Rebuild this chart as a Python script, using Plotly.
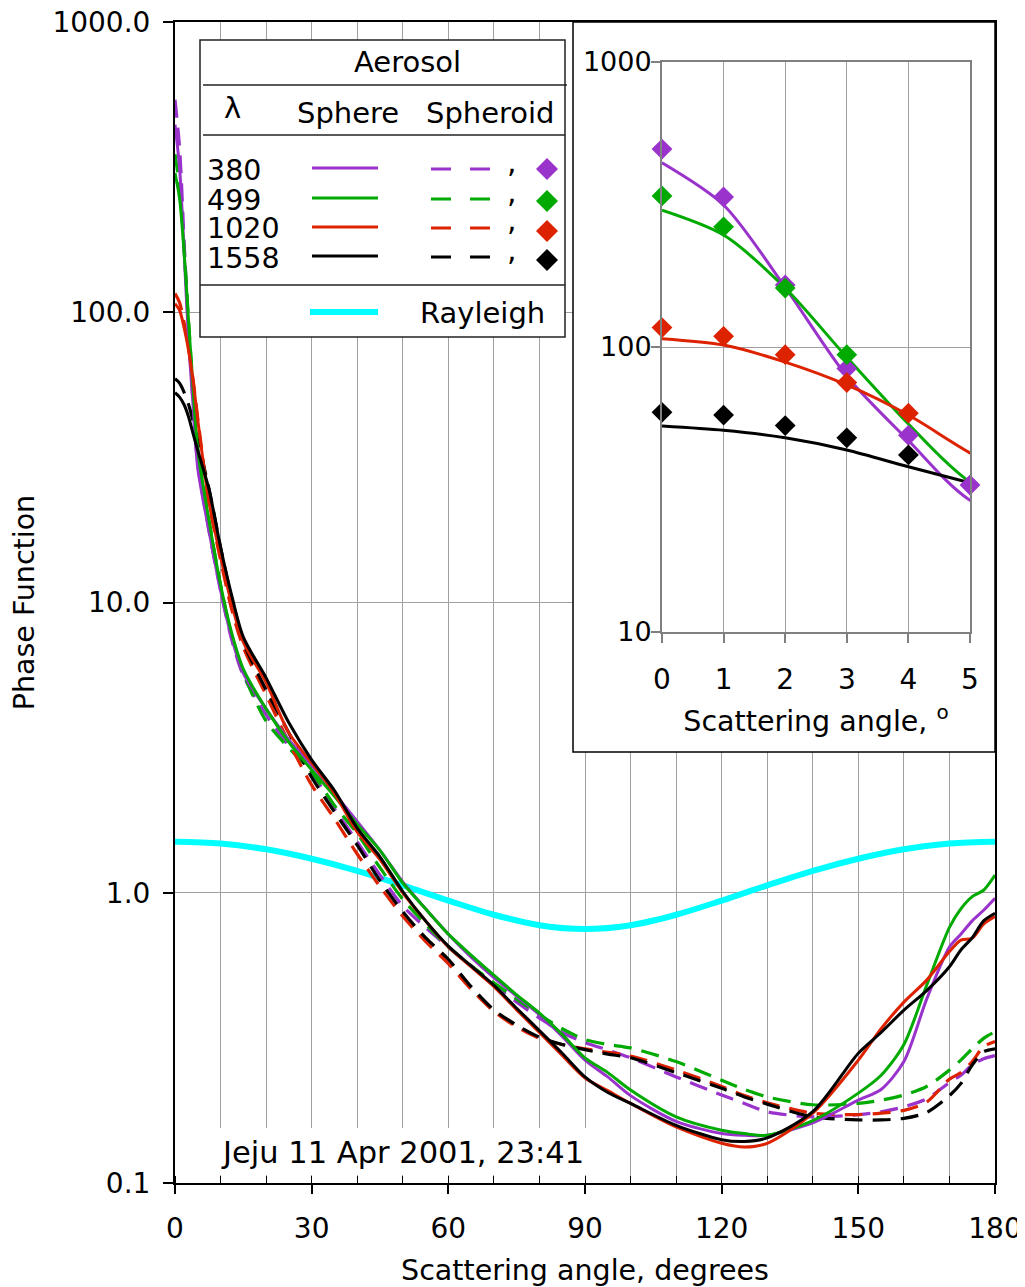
import plotly.graph_objects as go

# ---------------- data ----------------
angles = [0, 1, 2, 3, 4, 5, 7.5, 10, 12.5, 15, 20, 25, 30, 35, 40, 45, 50, 55, 60, 65,
          70, 75, 80, 85, 90, 95, 100, 110, 120, 125, 130, 140, 150, 155, 160, 165,
          170, 172.5, 175, 177.5, 180]

sphere_380 = [443, 315, 162, 79, 47, 29, 17.5, 11, 7.5, 5.7, 4.3, 3.36, 2.75, 2.2, 1.76, 1.4,
              1.09, 0.88, 0.72, 0.6, 0.51, 0.44, 0.38, 0.32, 0.265, 0.232, 0.2, 0.163, 0.148,
              0.146, 0.146, 0.161, 0.193, 0.21, 0.262, 0.43, 0.65, 0.72, 0.8, 0.87, 0.957]
sphere_499 = [302, 247, 161, 92, 53.7, 33.6, 19, 11.5, 7.8, 5.9, 4.3, 3.3, 2.65, 2.15, 1.72, 1.4,
              1.08, 0.88, 0.72, 0.61, 0.52, 0.445, 0.385, 0.325, 0.27, 0.24, 0.209, 0.169, 0.152,
              0.148, 0.146, 0.164, 0.204, 0.235, 0.3, 0.48, 0.76, 0.88, 0.97, 1.02, 1.15]
sphere_1020 = [107, 101.6, 88.5, 73.6, 57.7, 42.5, 22, 14.4, 9.8, 7.3, 5.3, 3.55, 2.8, 2.2, 1.62, 1.3,
               1.0, 0.8, 0.65, 0.555, 0.475, 0.395, 0.33, 0.275, 0.23, 0.208, 0.188, 0.156, 0.137,
               0.133, 0.137, 0.174, 0.265, 0.34, 0.42, 0.5, 0.627, 0.687, 0.697, 0.78, 0.828]
sphere_1558 = [52.8, 51, 48, 43.5, 38, 33.4, 24.4, 15.5, 10.5, 7.6, 5.5, 3.85, 2.87, 2.25, 1.67, 1.33,
               1.01, 0.8, 0.655, 0.56, 0.48, 0.4, 0.335, 0.28, 0.232, 0.205, 0.188, 0.158, 0.141,
               0.139, 0.143, 0.176, 0.28, 0.33, 0.394, 0.46, 0.556, 0.635, 0.7, 0.8, 0.85]

spheroid_380 = [540, 370, 175, 85, 48, 30, 17.5, 11, 7.4, 5.6, 4.1, 3.2, 2.6, 1.95, 1.5, 1.15,
                0.9, 0.76, 0.65, 0.56, 0.48, 0.42, 0.37, 0.33, 0.305, 0.287, 0.27, 0.232, 0.201,
                0.188, 0.176, 0.169, 0.172, 0.176, 0.183, 0.195, 0.222, 0.235, 0.255, 0.268, 0.275]
spheroid_499 = [350, 270, 165, 92, 54, 34, 19, 11.5, 7.6, 5.7, 3.9, 3.15, 2.6, 2.0, 1.6, 1.22,
                0.95, 0.78, 0.65, 0.56, 0.49, 0.43, 0.38, 0.34, 0.312, 0.3, 0.292, 0.262, 0.226,
                0.21, 0.198, 0.186, 0.188, 0.193, 0.201, 0.215, 0.245, 0.265, 0.29, 0.315, 0.332]
spheroid_1020 = [116, 108, 92, 75, 58, 43, 22, 14, 9.4, 7.0, 4.8, 3.3, 2.35, 1.8, 1.36, 1.05,
                 0.83, 0.68, 0.57, 0.465, 0.39, 0.345, 0.315, 0.3, 0.29, 0.282, 0.274, 0.245, 0.215,
                 0.2, 0.189, 0.174, 0.172, 0.174, 0.178, 0.19, 0.228, 0.24, 0.262, 0.295, 0.307]
spheroid_1558 = [59, 57, 53, 48, 42, 36, 24.5, 15.5, 10.2, 7.3, 5.0, 3.55, 2.5, 1.9, 1.46, 1.1,
                 0.86, 0.7, 0.59, 0.475, 0.395, 0.35, 0.318, 0.3, 0.288, 0.278, 0.27, 0.24, 0.212,
                 0.198, 0.187, 0.169, 0.165, 0.165, 0.167, 0.175, 0.2, 0.22, 0.255, 0.283, 0.29]

rayleigh_angles = [0, 10, 20, 30, 40, 50, 60, 70, 80, 90, 100, 110, 120, 130, 140, 150, 160, 170, 180]
rayleigh = [1.5, 1.478, 1.412, 1.31, 1.19, 1.06, 0.94, 0.84, 0.773, 0.75, 0.773, 0.84, 0.94,
            1.06, 1.19, 1.31, 1.412, 1.478, 1.5]

meas_angles = [0, 1, 2, 3, 4, 5]
meas_380 = [495, 336, 165, 84, 49, 32.8]
meas_499 = [339, 264, 161, 94, None, None]
meas_1020 = [117, 109, 94, 75, 58.6, None]
meas_1558 = [59, 57.7, 53, 48, 41.8, None]

wavelengths = ["380", "499", "1020", "1558"]
colors = ["#9933CC", "#00AA00", "#DD2200", "#000000"]
sphere = [sphere_380, sphere_499, sphere_1020, sphere_1558]
spheroid = [spheroid_380, spheroid_499, spheroid_1020, spheroid_1558]
meas = [meas_380, meas_499, meas_1020, meas_1558]

main_xticks = [0, 30, 60, 90, 120, 150, 180]
main_yticks = [0.1, 1, 10, 100, 1000]
main_yticktext = ["0.1", "1.0", "10.0", "100.0", "1000.0"]
inset_xticks = [0, 1, 2, 3, 4, 5]
inset_yticks = [10, 100, 1000]
inset_yticktext = ["10", "100", "1000"]

# ---------------- layout helpers (window pixel -> paper) ----------------
OFF = 8                      # default page (body) margin of the html page
L, R, T, B = 175, 995, 22, 1183
W, H = 1025 - OFF, 1287 - OFF
def PX(x):
    return (x - L) / (R - L)
def PY(y):
    return (B - y) / (B - T)

FONT = "DejaVu Sans"
GRID = "#a0a0a0"
DASH = "18px,10px"
TICKF = dict(family=FONT, size=28, color="black")
TITLEF = dict(family=FONT, size=28.5, color="black")

fig = go.Figure()

# main plot
fig.add_trace(go.Scatter(x=rayleigh_angles, y=rayleigh, mode="lines",
                         line=dict(color="#00FFFF", width=6, shape="spline", smoothing=1),
                         xaxis="x", yaxis="y", hoverinfo="skip"))
for wl, c, sp in zip(wavelengths, colors, spheroid):
    fig.add_trace(go.Scatter(x=angles, y=sp, mode="lines", name=wl + " spheroid",
                             line=dict(color=c, width=3.2, dash=DASH, shape="spline", smoothing=0.8),
                             xaxis="x", yaxis="y"))
for wl, c, s in zip(wavelengths, colors, sphere):
    fig.add_trace(go.Scatter(x=angles, y=s, mode="lines", name=wl + " sphere",
                             line=dict(color=c, width=3, shape="spline", smoothing=0.8),
                             xaxis="x", yaxis="y"))

# inset frame subplot (gives an opaque white box)
fig.add_trace(go.Scatter(x=[None], y=[None], xaxis="x2", yaxis="y2", hoverinfo="skip"))

# inset plot
for wl, c, s in zip(wavelengths, colors, sphere):
    fig.add_trace(go.Scatter(x=angles, y=s, mode="lines",
                             line=dict(color=c, width=3, shape="spline", smoothing=0.8),
                             xaxis="x3", yaxis="y3"))
for wl, c, m in zip(wavelengths, colors, meas):
    fig.add_trace(go.Scatter(x=meas_angles, y=m, mode="markers", cliponaxis=False,
                             marker=dict(symbol="diamond", size=16, color=c),
                             xaxis="x3", yaxis="y3"))

fig.update_layout(
    template="none",
    width=W, height=H,
    margin=dict(l=L - OFF, r=W + OFF - R, t=T - OFF, b=H + OFF - B, autoexpand=False),
    paper_bgcolor="white", plot_bgcolor="white", showlegend=False,
    font=dict(family=FONT, size=28, color="black"),
    xaxis=dict(domain=[0, 1], anchor="y", range=[0, 180], tickvals=main_xticks, automargin=False,
               ticks="outside", ticklen=9, tickwidth=1.5, tickcolor="black", tickfont=TICKF,
               showline=True, linecolor="black", linewidth=2, mirror=True,
               showgrid=True, gridcolor=GRID, gridwidth=1, zeroline=False,
               minor=dict(tick0=0, dtick=10, ticks="inside", ticklen=7, tickwidth=1,
                          tickcolor="black", showgrid=True, gridcolor=GRID, gridwidth=1),
               ticklabelstandoff=10, ticklabeloverflow="allow",
               title=dict(text="Scattering angle, degrees", standoff=16, font=TITLEF)),
    yaxis=dict(domain=[0, 1], anchor="x", type="log", range=[-1, 3], automargin=False,
               tickvals=main_yticks, ticktext=main_yticktext, tickfont=TICKF,
               ticks="outside", ticklen=10, tickwidth=1.5, tickcolor="black",
               showline=True, linecolor="black", linewidth=2, mirror=True,
               showgrid=True, gridcolor=GRID, gridwidth=1, zeroline=False,
               ticklabelstandoff=7, ticklabeloverflow="allow",
               title=dict(text="Phase Function", standoff=27, font=TITLEF)),
    xaxis2=dict(domain=[PX(573), 1], anchor="y2", range=[0, 1], visible=False, automargin=False),
    yaxis2=dict(domain=[PY(752), 1], anchor="x2", range=[0, 1], visible=False, automargin=False),
    xaxis3=dict(domain=[PX(662), PX(970)], anchor="y3", range=[0, 5], tickvals=inset_xticks,
                automargin=False, tickfont=TICKF, ticklabeloverflow="allow",
                ticks="outside", ticklen=9, tickwidth=1.5, tickcolor="#808080",
                showline=True, linecolor="#808080", linewidth=2, mirror=True,
                showgrid=True, gridcolor=GRID, gridwidth=1, zeroline=False,
                ticklabelstandoff=12,
                title=dict(text="Scattering angle, <sup>o</sup>", standoff=16, font=TITLEF)),
    yaxis3=dict(domain=[PY(632), PY(62)], anchor="x3", type="log", range=[1, 3],
                automargin=False, tickfont=dict(family=FONT, size=27, color="black"),
                tickvals=inset_yticks, ticktext=inset_yticktext, ticklabeloverflow="allow",
                ticks="outside", ticklen=9, tickwidth=1.5, tickcolor="#808080",
                ticklabelstandoff=-6,
                showline=True, linecolor="#808080", linewidth=2, mirror=True,
                showgrid=True, gridcolor=GRID, gridwidth=1, zeroline=False),
)

shapes = []
# inset outer border
shapes.append(dict(type="rect", xref="paper", yref="paper", x0=PX(573), x1=PX(995),
                   y0=PY(752), y1=PY(22), line=dict(color="black", width=1.5), layer="above"))
# white band behind the date label
shapes.append(dict(type="rect", xref="paper", yref="paper", x0=PX(177), x1=PX(628),
                   y0=PY(1175), y1=PY(1128), fillcolor="white", line=dict(width=0), layer="above"))
# legend box
shapes.append(dict(type="rect", xref="paper", yref="paper", x0=PX(200), x1=PX(565),
                   y0=PY(337), y1=PY(40), fillcolor="white",
                   line=dict(color="#222222", width=1.5), layer="above"))
for yy, xa, xb in [(85, 203, 567), (135, 203, 565), (285, 200, 565)]:
    shapes.append(dict(type="line", xref="paper", yref="paper", x0=PX(xa), x1=PX(xb),
                       y0=PY(yy), y1=PY(yy), line=dict(color="#222222", width=1.5), layer="above"))
row_y = [168, 198, 227, 256]
diam_y = [169, 201, 231, 260]
for c, yy, dy in zip(colors, row_y, diam_y):
    shapes.append(dict(type="line", xref="paper", yref="paper", x0=PX(312), x1=PX(378),
                       y0=PY(yy), y1=PY(yy), line=dict(color=c, width=3), layer="above"))
    shapes.append(dict(type="line", xref="paper", yref="paper", x0=PX(431), x1=PX(491),
                       y0=PY(yy + 1), y1=PY(yy + 1), line=dict(color=c, width=3, dash="20px,19px"),
                       layer="above"))
    shapes.append(dict(type="path", xref="paper", yref="paper", xsizemode="pixel",
                       ysizemode="pixel", xanchor=PX(547), yanchor=PY(dy),
                       path="M 0 11 L 11 0 L 0 -11 L -11 0 Z", fillcolor=c,
                       line=dict(width=0), layer="above"))
shapes.append(dict(type="line", xref="paper", yref="paper", x0=PX(310), x1=PX(378),
                   y0=PY(312), y1=PY(312), line=dict(color="#00FFFF", width=6), layer="above"))
fig.update_layout(shapes=shapes)

ann = []
def text(t, x, y, xanchor="center", size=29):
    ann.append(dict(text=t, xref="paper", yref="paper", x=PX(x), y=PY(y), xanchor=xanchor,
                    yanchor="middle", showarrow=False, borderpad=0,
                    font=dict(family=FONT, size=size, color="black")))
text("Aerosol", 407, 62)
text("λ", 232, 108)
text("Sphere", 348, 113)
text("Spheroid", 490, 113)
for wl, yy in zip(wavelengths, [171, 200, 229, 258]):
    text(wl, 206, yy, xanchor="left", size=28.5)
for yy in row_y:
    text(",", 512, yy - 7, size=30)
text("Rayleigh", 482, 313)
text("Jeju 11 Apr 2001, 23:41", 220, 1152, xanchor="left", size=30.5)
fig.update_layout(annotations=ann)

fig.write_html("out.html")
